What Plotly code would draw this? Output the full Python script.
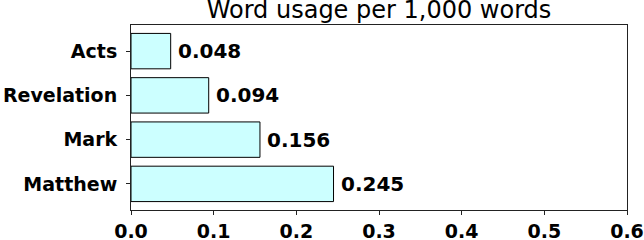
import plotly.graph_objects as go

# Word frequency per book
books = ["Matthew", "Mark", "Revelation", "Acts"]
usage = [0.245, 0.156, 0.094, 0.048]
x_ticks = [0.0, 0.1, 0.2, 0.3, 0.4, 0.5, 0.6]

FONT = "DejaVu Sans"

fig = go.Figure(
    go.Bar(
        x=usage,
        y=list(range(len(books))),
        orientation="h",
        width=0.8,
        marker=dict(color="#ccffff", line=dict(color="black", width=1)),
        hoverinfo="skip",
    )
)

# value labels to the right of each bar
for i, v in enumerate(usage):
    fig.add_annotation(
        x=v, y=i, text=f"{v:.3f}", showarrow=False,
        xanchor="left", yanchor="middle", xshift=5,
        font=dict(family=FONT, size=20, color="black", weight="bold"),
    )

fig.update_layout(
    width=644, height=240,
    margin=dict(l=131, r=17, t=25, b=30),
    paper_bgcolor="white", plot_bgcolor="white",
    showlegend=False,
    title=dict(
        text="Word usage per 1,000 words",
        font=dict(family=FONT, size=24, color="black"),
        x=0.5 * (131 + 627) / 644, xanchor="center",
        y=0.995, yanchor="top", pad=dict(t=0),
    ),
)

fig.update_xaxes(
    range=[0, 0.6], tickvals=x_ticks, ticktext=[f"{t:.1f}" for t in x_ticks],
    showgrid=False, zeroline=False, automargin=False,
    showline=True, linecolor="#222", linewidth=1, mirror=True,
    ticks="outside", ticklen=4, tickcolor="#222",
    tickfont=dict(family=FONT, size=19, color="black", weight="bold"),
)
fig.update_yaxes(
    range=[-0.59, 3.59], tickvals=list(range(len(books))), ticktext=books,
    showgrid=False, zeroline=False, automargin=False,
    showline=True, linecolor="#222", linewidth=1, mirror=True,
    ticks="outside", ticklen=4, tickcolor="#222", ticklabelstandoff=5,
    tickfont=dict(family=FONT, size=19, color="black", weight="bold"),
)

fig.write_html("out.html")
